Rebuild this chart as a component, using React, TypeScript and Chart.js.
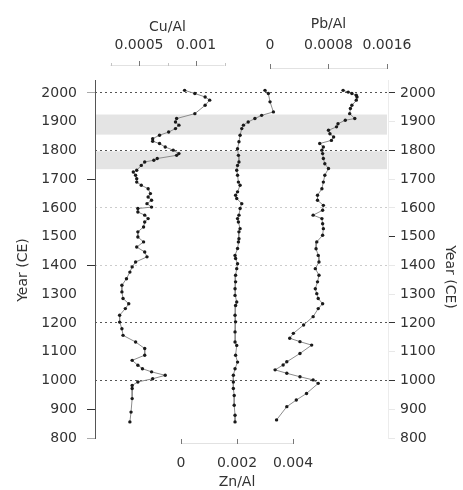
import React, { useEffect, useRef } from 'react';
import { Chart, registerables } from 'chart.js';

Chart.register(...registerables);

const FONT = 'DejaVu Sans';
const TEXT = '#333333';

// Year axis
const yearTicks = [800, 900, 1000, 1100, 1200, 1300, 1400, 1500, 1600, 1700, 1800, 1900, 2000];
const darkRefYears = [2000, 1800, 1200, 1000];
const lightRefYears = [1600, 1400];
const rightDarkTickYears = [2000, 1800, 1500, 1200, 1000];
const leftDarkTickYears = [1700, 1400, 900];
const leftGrayTickYears = [2000, 800];
const shadedBands = [
  [1855, 1925],
  [1735, 1797],
];
const yearTitle = 'Year (CE)';

// Cu/Al profile
const cuYears = [2009, 1998, 1986, 1975, 1957, 1928, 1911, 1899, 1888, 1876, 1864, 1853, 1841, 1832, 1824, 1812, 1801, 1789, 1783, 1772, 1766, 1760, 1748, 1731, 1725, 1714, 1702, 1690, 1679, 1667, 1650, 1638, 1627, 1615, 1603, 1598, 1586, 1575, 1563, 1551, 1534, 1517, 1499, 1482, 1464, 1447, 1430, 1412, 1395, 1377, 1354, 1331, 1308, 1285, 1267, 1250, 1227, 1203, 1180, 1157, 1134, 1111, 1088, 1070, 1053, 1041, 1030, 1018, 1006, 995, 983, 972, 937, 890, 856];
const cuValues = [0.0009, 0.00099, 0.00108, 0.00112, 0.00108, 0.00099, 0.00083, 0.00082, 0.00085, 0.00082, 0.00076, 0.00068, 0.00062, 0.00062, 0.00068, 0.00073, 0.0008, 0.00085, 0.00083, 0.00066, 0.00063, 0.00055, 0.00052, 0.00048, 0.00045, 0.00047, 0.00048, 0.00048, 0.00052, 0.00058, 0.0006, 0.00058, 0.00061, 0.00057, 0.00061, 0.00049, 0.00049, 0.00055, 0.00058, 0.00055, 0.00054, 0.00049, 0.00049, 0.00054, 0.00048, 0.00055, 0.00057, 0.00047, 0.00044, 0.00042, 0.00039, 0.00035, 0.00035, 0.00036, 0.00041, 0.00038, 0.00033, 0.00033, 0.00035, 0.00036, 0.00047, 0.00055, 0.00055, 0.00044, 0.00049, 0.00053, 0.00061, 0.00073, 0.00062, 0.00049, 0.00044, 0.00044, 0.00044, 0.00043, 0.00042];

// Zn/Al profile
const znYears = [2009, 1998, 1969, 1934, 1922, 1911, 1899, 1888, 1876, 1853, 1830, 1806, 1783, 1760, 1748, 1731, 1714, 1690, 1679, 1656, 1644, 1633, 1615, 1598, 1575, 1563, 1551, 1528, 1517, 1493, 1482, 1459, 1435, 1424, 1406, 1389, 1366, 1343, 1319, 1296, 1273, 1261, 1227, 1204, 1169, 1134, 1122, 1088, 1064, 1041, 1018, 995, 972, 948, 914, 879, 856];
const znValues = [0.003, 0.00312, 0.00318, 0.0033, 0.00288, 0.00264, 0.0024, 0.00223, 0.00217, 0.00211, 0.00207, 0.00202, 0.00205, 0.00207, 0.00202, 0.00199, 0.00202, 0.00205, 0.00211, 0.00202, 0.00195, 0.00199, 0.00217, 0.00211, 0.00207, 0.00202, 0.00205, 0.00211, 0.00207, 0.00207, 0.00205, 0.00202, 0.00193, 0.00195, 0.00202, 0.00199, 0.00195, 0.00195, 0.00193, 0.00193, 0.00199, 0.00195, 0.00193, 0.00195, 0.00193, 0.00193, 0.00199, 0.00195, 0.00202, 0.00193, 0.00187, 0.00187, 0.00187, 0.0019, 0.0019, 0.00193, 0.00193];

// Pb/Al profile
const pbYears = [2009, 2003, 1998, 1992, 1986, 1975, 1957, 1946, 1928, 1911, 1905, 1893, 1882, 1870, 1858, 1847, 1835, 1824, 1812, 1801, 1789, 1772, 1754, 1737, 1714, 1690, 1667, 1644, 1627, 1609, 1592, 1575, 1563, 1545, 1528, 1505, 1482, 1458, 1435, 1412, 1389, 1366, 1343, 1319, 1302, 1285, 1267, 1250, 1222, 1193, 1164, 1147, 1135, 1123, 1094, 1065, 1054, 1037, 1025, 1013, 1002, 990, 955, 932, 909, 863];
const pbValues = [0.001, 0.00107, 0.00112, 0.00118, 0.00119, 0.00118, 0.00112, 0.0011, 0.00109, 0.00116, 0.00103, 0.00093, 0.00091, 0.0008, 0.00082, 0.00087, 0.00084, 0.00068, 0.00073, 0.00071, 0.00072, 0.00073, 0.00075, 0.0008, 0.00075, 0.00073, 0.00071, 0.00065, 0.00065, 0.00073, 0.00072, 0.00059, 0.00071, 0.00072, 0.00073, 0.00072, 0.00064, 0.00063, 0.00066, 0.00067, 0.00062, 0.00067, 0.00065, 0.00062, 0.00064, 0.00066, 0.00072, 0.00066, 0.00059, 0.00046, 0.00032, 0.00027, 0.00041, 0.00057, 0.00041, 0.00023, 0.00018, 0.00007, 0.00023, 0.00041, 0.00059, 0.00066, 0.0005, 0.00036, 0.00023, 0.00009];

// Element axes (ticks / labels)
const cuTicks = [0.0005, 0.001];
const cuTickLabels = ['0.0005', '0.001'];
const cuMinorTicks = [0.00025, 0.00075, 0.00125];
const pbTicks = [0, 0.0008, 0.0016];
const pbTickLabels = ['0', '0.0008', '0.0016'];
const znTicks = [0, 0.002, 0.004];
const znTickLabels = ['0', '0.002', '0.004'];

const toPoints = (years: number[], values: number[]) =>
  years.map((y, i) => ({ x: values[i], y }));

const bandsPlugin = {
  id: 'bands',
  beforeDraw(chart: any) {
    const { ctx, chartArea, scales } = chart;
    const y = scales.y;
    ctx.save();
    ctx.fillStyle = '#e4e4e4';
    shadedBands.forEach(([a, b]) => {
      const top = y.getPixelForValue(b);
      const bot = y.getPixelForValue(a);
      ctx.fillRect(chartArea.left + 1, top, chartArea.right - chartArea.left - 2, bot - top);
    });
    ctx.restore();
  },
};

const elementAxesPlugin = {
  id: 'elementAxes',
  afterDraw(chart: any) {
    const { ctx, scales } = chart;
    const drawAxis = (
      scale: any,
      ticks: number[],
      labels: string[],
      minors: number[],
      lineFrom: number,
      lineTo: number,
      axisY: number,
      labelY: number,
      title: string,
      titleY: number
    ) => {
      ctx.save();
      ctx.strokeStyle = '#e2e2e2';
      ctx.lineWidth = 1;
      ctx.beginPath();
      ctx.moveTo(scale.getPixelForValue(lineFrom), axisY + 0.5);
      ctx.lineTo(scale.getPixelForValue(lineTo), axisY + 0.5);
      ctx.stroke();
      ctx.strokeStyle = '#c4c4c4';
      minors.forEach((v) => {
        const px = Math.round(scale.getPixelForValue(v)) + 0.5;
        ctx.beginPath();
        ctx.moveTo(px, axisY - 2);
        ctx.lineTo(px, axisY + 1);
        ctx.stroke();
      });
      ctx.strokeStyle = '#777777';
      ticks.forEach((v) => {
        const px = Math.round(scale.getPixelForValue(v)) + 0.5;
        ctx.beginPath();
        ctx.moveTo(px, axisY - 4);
        ctx.lineTo(px, axisY + 1);
        ctx.stroke();
      });
      ctx.fillStyle = TEXT;
      ctx.font = `14px "${FONT}"`;
      ctx.textAlign = 'center';
      ctx.textBaseline = 'middle';
      ticks.forEach((v, i) => {
        ctx.fillText(labels[i], scale.getPixelForValue(v), labelY);
      });
      const mid = (scale.getPixelForValue(lineFrom) + scale.getPixelForValue(lineTo)) / 2;
      ctx.fillText(title, mid, titleY);
      ctx.restore();
    };
    drawAxis(scales.xCu, cuTicks, cuTickLabels, cuMinorTicks, 0.00025, 0.00125, 65, 45, 'Cu/Al', 27);
    drawAxis(scales.xPb, pbTicks, pbTickLabels, [], 0, 0.0016, 68, 45, 'Pb/Al', 24);
    drawAxis(scales.xZn, znTicks, znTickLabels, [], 0, 0.004, 443, 463, 'Zn/Al', 482);

    // Year titles (left reads upward, right reads downward)
    ctx.save();
    ctx.fillStyle = TEXT;
    ctx.font = `14px "${FONT}"`;
    ctx.textAlign = 'center';
    ctx.textBaseline = 'middle';
    ctx.translate(23, 270);
    ctx.rotate(-Math.PI / 2);
    ctx.fillText(yearTitle, 0, 0);
    ctx.restore();
    ctx.save();
    ctx.fillStyle = TEXT;
    ctx.font = `14px "${FONT}"`;
    ctx.textAlign = 'center';
    ctx.textBaseline = 'middle';
    ctx.translate(450, 277);
    ctx.rotate(Math.PI / 2);
    ctx.fillText(yearTitle, 0, 0);
    ctx.restore();
  },
};

export default function App() {
  const ref = useRef<HTMLCanvasElement>(null);

  useEffect(() => {
    if (!ref.current) return;
    Chart.defaults.font.family = FONT;
    Chart.defaults.font.size = 14;
    Chart.defaults.color = TEXT;

    const seriesStyle = {
      borderColor: '#8c8c8c',
      borderWidth: 1,
      pointRadius: 1.7,
      pointBackgroundColor: '#1a1a1a',
      pointBorderWidth: 0,
      pointHoverRadius: 0,
      tension: 0,
      fill: false,
      yAxisID: 'y',
    };

    const chart = new Chart(ref.current, {
      type: 'line',
      data: {
        datasets: [
          { ...seriesStyle, label: 'Cu/Al', data: toPoints(cuYears, cuValues), xAxisID: 'xCu' },
          { ...seriesStyle, label: 'Zn/Al', data: toPoints(znYears, znValues), xAxisID: 'xZn' },
          { ...seriesStyle, label: 'Pb/Al', data: toPoints(pbYears, pbValues), xAxisID: 'xPb' },
        ],
      },
      options: {
        animation: false,
        responsive: false,
        maintainAspectRatio: false,
        devicePixelRatio: 1,
        layout: { padding: { top: 80, bottom: 52, left: 0, right: 0 } },
        plugins: {
          legend: { display: false },
          tooltip: { enabled: false },
        },
        events: [],
        scales: {
          xCu: { type: 'linear', position: 'top', display: false, min: 0.000114, max: 0.002684 },
          xPb: { type: 'linear', position: 'top', display: false, min: -0.002393, max: 0.001614 },
          xZn: { type: 'linear', position: 'bottom', display: false, min: -0.0030714, max: 0.0073929 },
          y: {
            type: 'linear',
            position: 'left',
            min: 800,
            max: 2045,
            afterBuildTicks: (s: any) => {
              s.ticks = yearTicks.map((v) => ({ value: v }));
            },
            afterFit: (s: any) => {
              s.width = 95;
            },
            ticks: {
              color: TEXT,
              padding: 10,
              font: { size: 14 },
              callback: (v: any) => String(v),
            },
            grid: {
              drawOnChartArea: false,
              tickLength: 8,
              tickColor: (c: any) => {
                const v = c.tick && c.tick.value;
                if (leftDarkTickYears.includes(v)) return '#333333';
                if (leftGrayTickYears.includes(v)) return '#aaaaaa';
                return 'rgba(0,0,0,0)';
              },
            },
            border: { display: true, color: '#555555', width: 1 },
            title: { display: false },
          },
          y2: {
            type: 'linear',
            position: 'right',
            min: 800,
            max: 2045,
            afterBuildTicks: (s: any) => {
              s.ticks = yearTicks.map((v) => ({ value: v }));
            },
            afterFit: (s: any) => {
              s.width = 75;
            },
            ticks: {
              color: TEXT,
              padding: 5,
              font: { size: 14 },
              callback: (v: any) => String(v),
            },
            grid: {
              drawOnChartArea: true,
              tickLength: 7,
              lineWidth: 1,
              color: (c: any) => {
                const v = c.tick && c.tick.value;
                if (darkRefYears.includes(v)) return '#555555';
                if (lightRefYears.includes(v)) return '#cccccc';
                return 'rgba(0,0,0,0)';
              },
              tickColor: (c: any) => {
                const v = c.tick && c.tick.value;
                if (rightDarkTickYears.includes(v)) return '#333333';
                return '#e8e8e8';
              },
            },
            border: { display: true, color: '#ececec', width: 1, dash: [2, 3] },
            title: { display: false },
          },
        },
      },
      plugins: [bandsPlugin, elementAxesPlugin],
    } as any);

    return () => chart.destroy();
  }, []);

  return (
    <div style={{ position: 'absolute', left: 0, top: 0, width: 463, height: 490, background: '#ffffff' }}>
      <canvas ref={ref} width={463} height={490} style={{ display: 'block' }} />
    </div>
  );
}
